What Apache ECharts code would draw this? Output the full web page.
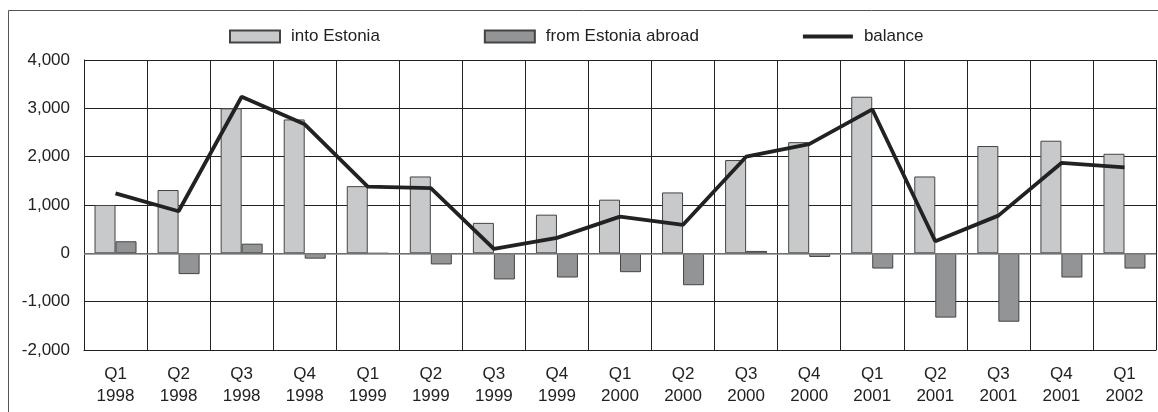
<!DOCTYPE html>
<html>
<head>
<meta charset="utf-8">
<script src="https://cdn.jsdelivr.net/npm/echarts@6/dist/echarts.min.js"></script>
<style>
  html, body { margin: 0; padding: 0; background: #fff; }
  #chart { width: 1158px; height: 412px; }
</style>
</head>
<body>
<div id="chart"></div>
<script>
const quarters = ["Q1\n1998", "Q2\n1998", "Q3\n1998", "Q4\n1998", "Q1\n1999", "Q2\n1999", "Q3\n1999", "Q4\n1999",
  "Q1\n2000", "Q2\n2000", "Q3\n2000", "Q4\n2000", "Q1\n2001", "Q2\n2001", "Q3\n2001", "Q4\n2001", "Q1\n2002"];
const intoEstonia = [1000, 1310, 3000, 2770, 1390, 1590, 630, 800, 1110, 1260, 1930, 2300, 3240, 1590, 2220, 2330, 2060];
const fromEstonia = [250, -430, 200, -110, 0, -230, -540, -500, -390, -660, 50, -75, -315, -1330, -1415, -500, -315];
const balance = [1240, 870, 3240, 2670, 1380, 1350, 90, 320, 760, 590, 2000, 2260, 2980, 250, 780, 1870, 1780];

const font = "'Liberation Sans', Arial, sans-serif";
const chart = echarts.init(document.getElementById("chart"));

chart.setOption({
  animation: false,
  textStyle: { fontFamily: font, color: "#222" },
  graphic: [{
    type: "rect",
    shape: { x: 8.5, y: 10.5, width: 1160, height: 420 },
    style: { fill: null, stroke: "#555", lineWidth: 1 },
    silent: true
  }],
  legend: {
    left: 229,
    top: 28,
    padding: 0,
    itemWidth: 50,
    itemHeight: 12,
    itemGap: 104,
    textStyle: { fontFamily: font, fontSize: 17, color: "#222", padding: [0, 0, 0, 6] },
    data: [
      { name: "into Estonia", icon: "rect" },
      { name: "from Estonia abroad", icon: "rect" },
      { name: "balance", icon: "path://M0,0M0,12M0,4h50v4h-50z" }
    ]
  },
  grid: { left: 84, right: 2, top: 60, bottom: 62 },
  xAxis: {
    type: "category",
    data: quarters,
    axisLine: { onZero: false, lineStyle: { color: "#222", width: 1 } },
    axisTick: { show: false },
    splitLine: { show: true, lineStyle: { color: "#222", width: 1 } },
    axisLabel: { fontFamily: font, fontSize: 17, color: "#222", margin: 13, lineHeight: 22, interval: 0 }
  },
  yAxis: {
    type: "value",
    min: -2000,
    max: 4000,
    interval: 1000,
    axisLine: { show: true, lineStyle: { color: "#222", width: 1 } },
    axisTick: { show: false },
    splitLine: { lineStyle: { color: "#222", width: 1 } },
    axisLabel: {
      fontFamily: font, fontSize: 17, color: "#222", margin: 14,
      formatter: v => v.toLocaleString("en-US")
    }
  },
  series: [
    {
      name: "into Estonia",
      type: "bar",
      data: intoEstonia,
      barWidth: 21,
      barGap: "0%",
      itemStyle: { color: "#c8c9cb", borderColor: "#444", borderWidth: 1 },
      markLine: {
        silent: true,
        symbol: "none",
        label: { show: false },
        lineStyle: { color: "#8a8a8a", width: 1.5, type: "solid" },
        data: [{ yAxis: 0 }]
      }
    },
    {
      name: "from Estonia abroad",
      type: "bar",
      data: fromEstonia,
      barWidth: 21,
      itemStyle: { color: "#939496", borderColor: "#444", borderWidth: 1 }
    },
    {
      name: "balance",
      type: "line",
      data: balance,
      symbol: "none",
      lineStyle: { color: "#222", width: 3.8 },
      itemStyle: { color: "#222" }
    }
  ]
});
</script>
</body>
</html>
